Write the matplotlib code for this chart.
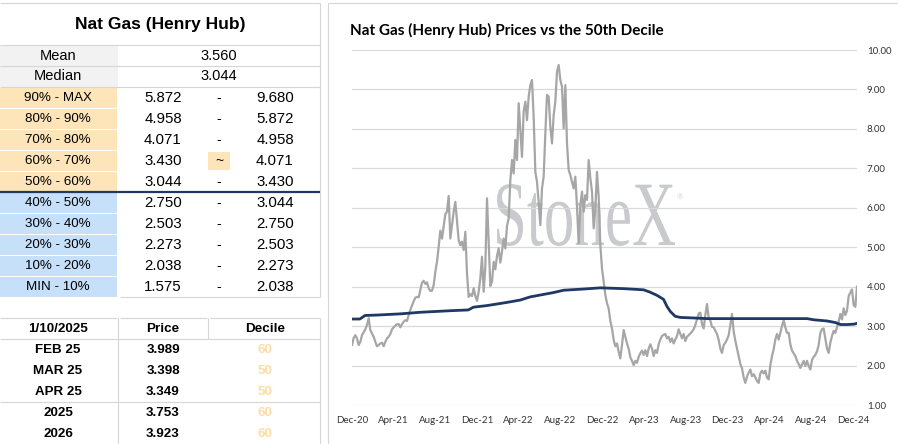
import numpy as np
import pandas as pd
import matplotlib
matplotlib.use('Agg')
import matplotlib.pyplot as plt
import matplotlib.dates as mdates
from matplotlib.ticker import FormatStrFormatter
from matplotlib.patches import Rectangle, PathPatch
from matplotlib.textpath import TextPath
from matplotlib.font_manager import FontProperties
from matplotlib.transforms import Affine2D, IdentityTransform

# ---- table data ----
title_tab   = 'Nat Gas (Henry Hub)'
mean_val    = '3.560'
median_val  = '3.044'
dec_labels  = ['90% - MAX', '80% - 90%', '70% - 80%', '60% - 70%', '50% - 60%',
               '40% - 50%', '30% - 40%', '20% - 30%', '10% - 20%', 'MIN - 10%']
dec_low     = ['5.872', '4.958', '4.071', '3.430', '3.044',
               '2.750', '2.503', '2.273', '2.038', '1.575']
dec_high    = ['9.680', '5.872', '4.958', '4.071', '3.430',
               '3.044', '2.750', '2.503', '2.273', '2.038']
current_row = 3   # 60% - 70% marked with ~

asof        = '1/10/2025'
contracts   = ['FEB 25', 'MAR 25', 'APR 25', '2025', '2026']
c_prices    = ['3.989', '3.398', '3.349', '3.753', '3.923']
c_deciles   = ['60', '50', '50', '60', '60']

# ---- chart data ----
chart_title = 'Nat Gas (Henry Hub) Prices vs the 50th Decile'
price_start = '2020-12-01'
price_end   = '2024-12-12'
prices = [
    2.52, 2.70, 2.77, 2.69, 2.52, 2.60, 2.77, 2.84, 2.92, 3.03,
    3.20, 2.90, 2.81, 2.73, 2.60, 2.49, 2.52, 2.56, 2.58, 2.49,
    2.60, 2.69, 2.73, 2.80, 2.92, 2.97, 3.01, 3.05, 3.05, 2.97,
    3.05, 3.11, 3.15, 3.13, 3.28, 3.41, 3.52, 3.63, 3.72, 3.74,
    3.73, 3.91, 4.10, 4.15, 4.07, 4.11, 3.96, 3.89, 3.90, 4.04,
    4.38, 4.63, 5.01, 5.42, 5.22, 5.52, 5.84, 5.90, 6.30, 5.22,
    5.56, 5.90, 6.15, 5.65, 5.18, 5.05, 5.14, 4.93, 5.39, 4.34,
    3.74, 3.81, 3.76, 3.96, 3.76, 3.64, 3.87, 4.21, 4.76, 3.87,
    4.51, 6.24, 5.10, 4.02, 4.13, 4.63, 4.44, 4.78, 4.97, 4.61,
    4.89, 5.22, 4.97, 5.54, 5.73,
    6.70, 7.21, 6.87, 7.72, 7.21, 8.65, 7.97,
    7.29, 8.44, 8.69, 8.22, 8.82, 9.11, 9.24, 8.31, 6.91, 6.66,
    6.15, 5.56, 6.49, 6.79, 7.89, 8.86, 8.82, 8.06, 7.63, 8.35,
    8.69, 9.45, 9.62, 9.24, 9.07, 8.01, 9.11, 7.63, 6.96, 6.83,
    6.66, 6.49, 6.79, 6.03, 5.10, 6.07, 6.41, 5.90, 6.32, 6.20,
    7.21, 6.75, 6.41, 5.48, 5.98, 6.91, 6.28, 5.05, 4.46, 4.13,
    3.79, 3.58, 3.45, 3.13, 2.94, 2.65, 2.49, 2.56, 2.35, 2.18,
    2.52, 2.90, 2.73, 2.56, 2.43, 2.21, 2.12, 2.01, 2.12, 2.07,
    2.22, 2.31, 2.38, 2.27, 2.39, 2.24, 2.43, 2.54, 2.43, 2.24,
    2.39, 2.32, 2.54, 2.66, 2.75, 2.78, 2.80, 2.69, 2.73, 2.60,
    2.69, 2.56, 2.66, 2.75, 2.92, 2.80, 2.69, 2.80, 2.62, 2.73,
    2.77,
    2.81, 2.86, 2.92, 3.03, 3.17, 3.32, 3.34, 3.05, 2.94, 3.28,
    3.56, 3.22, 3.14, 2.98, 2.97, 2.88, 2.80, 2.65, 2.43, 2.32,
    2.52, 2.58, 2.66, 2.77, 3.03, 3.31, 2.86, 2.63, 2.43, 2.22,
    2.04, 1.93, 1.70, 1.56, 1.72, 1.82, 1.90, 1.73, 1.78, 1.70,
    1.61, 1.56, 1.80, 1.87, 1.80, 1.87, 1.70, 1.65, 2.01, 2.24,
    2.41, 2.66, 2.80, 2.66, 2.83, 3.00, 3.15, 2.97, 2.83, 2.83,
    2.54, 2.38, 2.31, 2.24, 2.12, 2.04, 1.94, 2.03, 2.12, 1.99,
    2.12, 1.99, 1.90, 2.14, 2.22, 2.27, 2.36, 2.52, 2.83, 2.92,
    2.94, 2.69, 2.43, 2.32, 2.58, 2.75, 2.88, 2.83, 2.97, 3.11,
    3.31, 3.17, 3.45, 3.28, 3.39, 3.76, 3.85, 3.93, 3.53, 3.49,
    4.00,
]
med_dates = ['2020-12-01', '2020-12-24', '2021-01-08', '2021-02-11', '2021-04-20',
             '2021-06-17', '2021-09-13', '2021-11-05', '2021-11-20', '2021-12-29',
             '2022-02-25', '2022-04-05', '2022-05-04', '2022-07-11', '2022-08-10',
             '2022-10-07', '2022-11-25', '2023-02-01', '2023-03-31', '2023-04-19',
             '2023-05-09', '2023-05-28', '2023-06-07', '2023-06-17', '2023-07-01',
             '2023-07-16', '2023-08-14', '2023-10-02', '2024-07-20', '2024-08-08',
             '2024-09-16', '2024-10-10', '2024-10-25', '2024-11-13', '2024-12-03',
             '2024-12-12']
med_vals  = [3.18, 3.18, 3.27, 3.28, 3.31,
             3.35, 3.39, 3.41, 3.48, 3.52,
             3.60, 3.66, 3.74, 3.85, 3.91,
             3.94, 3.97, 3.95, 3.92, 3.86,
             3.78, 3.68, 3.50, 3.37, 3.25,
             3.22, 3.21, 3.19, 3.19, 3.16,
             3.13, 3.09, 3.04, 3.04, 3.05,
             3.07]

# ---- styles ----
ORANGE = '#fde5b9'
BLUE   = '#c6e0fa'
LGRAY  = '#f2f2f2'
LINE   = '#d6d6d6'
NAVY   = '#1f3864'
ARIAL  = ['Liberation Sans', 'DejaVu Sans']
CALI   = ['Lato', 'DejaVu Sans']

fig = plt.figure(figsize=(8.98, 4.44), dpi=100)
fig.patch.set_facecolor('white')

# full-figure axes in pixel units for the table
tb = fig.add_axes([0, 0, 1, 1])
tb.set_xlim(0, 898)
tb.set_ylim(444, 0)
tb.axis('off')

def hl(y, x0, x1, c=LINE, lw=0.8):
    tb.plot([x0, x1], [y, y], color=c, lw=lw, solid_capstyle='butt')

def vl(x, y0, y1, c=LINE, lw=0.8):
    tb.plot([x, x], [y0, y1], color=c, lw=lw, solid_capstyle='butt')

def txt(x, y, s, size=10.5, bold=False, color='black'):
    tb.text(x, y, s, ha='center', va='center', fontsize=size, color=color,
            family=ARIAL, fontweight='bold' if bold else 'normal')

# upper table
tb.add_patch(Rectangle((0, 45), 118, 42, fc=LGRAY, ec='none'))
hl(3, 0, 320)
hl(45, 0, 320)
hl(66, 0, 320)
hl(87, 0, 320)
vl(320, 3, 297)
txt(160, 24, title_tab, size=12.5, bold=True)
txt(58, 55.5, 'Mean')
txt(219, 55.5, mean_val)
txt(58, 76.5, 'Median')
txt(219, 76.5, median_val)

row_h = 21
for i, lab in enumerate(dec_labels):
    y0 = 87 + i * row_h
    fc = ORANGE if i < 5 else BLUE
    tb.add_patch(Rectangle((0, y0 + 1), 117, row_h - 1, fc=fc, ec='none'))
    yc = y0 + row_h / 2 + 0.5
    txt(58, yc, lab, size=9.6)
    txt(163, yc, dec_low[i], size=10.8)
    txt(275, yc, dec_high[i], size=10.8)
    if i == current_row:
        tb.add_patch(Rectangle((208, y0 + 2), 22, row_h - 3, fc=ORANGE, ec='none'))
        txt(219, yc, '~', size=10)
    else:
        txt(219, yc, '-', size=10)
hl(192, 0, 320, c=NAVY, lw=1.6)
hl(297, 120, 320)

# lower table
hl(318, 0, 117)
hl(318, 120, 207)
hl(318, 210, 320)
hl(339, 0, 320)
hl(402, 0, 320)
vl(118, 318, 444)
vl(208, 318, 339)
vl(320, 318, 444)
txt(58, 328.5, asof, size=9.7, bold=True)
txt(163, 328.5, 'Price', size=9.7, bold=True)
txt(265, 328.5, 'Decile', size=9.7, bold=True)
for i, c in enumerate(contracts):
    yc = 349.5 + i * 21
    txt(58, yc, c, size=9.6, bold=True)
    txt(163, yc, c_prices[i], size=9.6, bold=True)
    txt(265, yc, c_deciles[i], size=9.6, bold=True, color='#fddca4')

# right panel frame
vl(328, 3, 444)
hl(3, 328, 898)

# ---- chart ----
dates = pd.date_range(price_start, price_end, periods=len(prices))
mdt = pd.to_datetime(med_dates)

ax = fig.add_axes([352 / 898, 39 / 444, 505 / 898, 355 / 444])
ax.patch.set_alpha(0)
ax.plot(dates, prices, color='#a6a6a6', lw=1.6, zorder=3)
ax.plot(mdt, med_vals, color=NAVY, lw=2.0, zorder=4)
ax.set_xlim(dates[0], dates[-1])
ax.set_ylim(1, 10)
ax.set_yticks(np.arange(1, 11))
ax.yaxis.set_major_formatter(FormatStrFormatter('%.2f'))
ax.yaxis.tick_right()
ax.xaxis.set_major_locator(mdates.MonthLocator(bymonth=(4, 8, 12)))
ax.xaxis.set_major_formatter(mdates.DateFormatter('%b-%y'))
ax.grid(axis='y', color='#d9d9d9', lw=0.9)
ax.grid(axis='x', visible=False)
ax.set_axisbelow(True)
for s in ax.spines.values():
    s.set_visible(False)
ax.tick_params(axis='both', length=0, labelsize=7, colors='#333333')
ax.tick_params(axis='y', pad=7)
ax.tick_params(axis='x', pad=8)
for lab in ax.get_xticklabels() + ax.get_yticklabels():
    lab.set_family(CALI)

fig.text(350 / 898, 1 - 30 / 444, chart_title, ha='left', va='center',
         fontsize=11, fontweight='bold', family=CALI, color='black')

# StoneX watermark, stretched serif text in pixel coords
tp = TextPath((0, 0), 'StoneX', size=100, prop=FontProperties(family='Liberation Serif'))
bb = tp.get_extents()
wm = Affine2D().translate(-bb.x0, -bb.y0).scale(178 / bb.width, 62 / bb.height).translate(497, 198)
ax.add_patch(PathPatch(wm.transform_path(tp), transform=IdentityTransform(),
                       fc='#c9cacd', ec='none', zorder=0.2, clip_on=False))
fig.text(680 / 898, 1 - 197 / 444, '\u00ae', ha='center', va='center',
         fontsize=6, color='#c9cacd', family=['Liberation Serif', 'DejaVu Serif'])

fig.savefig('out.png', dpi=100, facecolor='white')
